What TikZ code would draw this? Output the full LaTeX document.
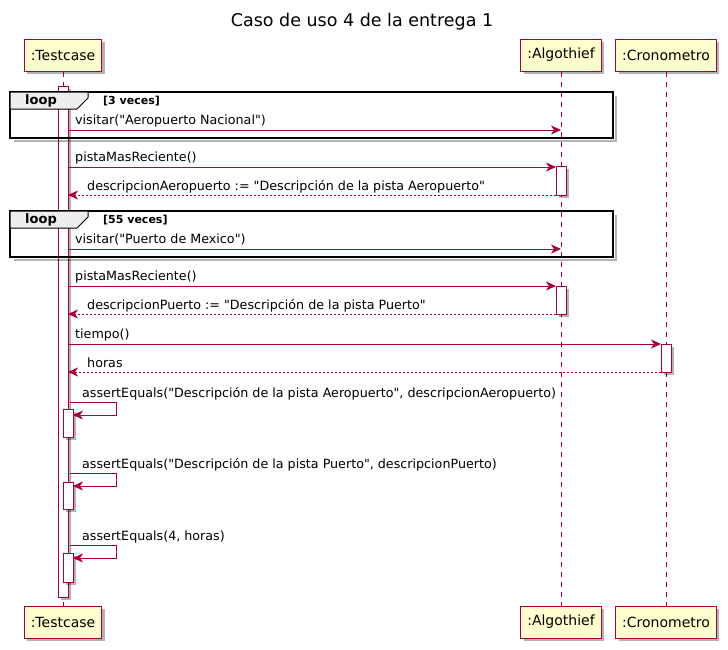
\documentclass[tikz,border=0pt]{standalone}
\usepackage{fontspec}
\setmainfont{DejaVu Sans}[Ligatures=TeXOff]
\usetikzlibrary{arrows.meta, positioning, shadows}
\definecolor{umlred}{HTML}{A80036}
\definecolor{umlfill}{HTML}{FEFECE}
\definecolor{loopgray}{HTML}{EEEEEE}
\tikzset{
    >={Stealth[length=10pt, width=9pt, inset=3pt]},
    umlshadow/.style={drop shadow={shadow xshift=3pt, shadow yshift=-3pt, fill=black, opacity=0.3}},
    actor/.style={draw=umlred, fill=umlfill, line width=1pt, minimum height=32pt,
        inner xsep=6.5pt, font=\fontsize{14}{16}\selectfont, umlshadow},
    lifeline/.style={umlred, dash pattern=on 5pt off 5pt, line width=0.8pt},
    actbar/.style={draw=umlred, fill=white, line width=1pt, umlshadow},
    msg/.style={umlred, ->, line width=0.9pt},
    ret/.style={umlred, ->, dash pattern=on 2pt off 2pt, line width=0.9pt},
    msglabel/.style={anchor=base west, inner sep=0pt, font=\fontsize{12.7}{14}\selectfont},
    loopframe/.style={draw=black, line width=1.8pt},
    loopshadow/.style={draw=black, opacity=0.3, line width=2pt},
    looptab/.style={draw=black, fill=loopgray, line width=1pt},
    looplabel/.style={inner sep=0pt, font=\bfseries\fontsize{13}{15}\selectfont},
    loopcond/.style={anchor=base west, inner sep=0pt, font=\bfseries\fontsize{11}{13}\selectfont}
}

\begin{document}
\begin{tikzpicture}[x=1pt, y=-1pt]
    \useasboundingbox (0, 0) rectangle (728, 649);
    % title
    \node[font=\fontsize{17.5}{20}\selectfont] (title) at (362, 22) {Caso de uso 4 de la entrega 1};
    % participants
    \node[actor] (testcaseTop) at (63, 55) {:Testcase};
    \node[actor] (algothiefTop) at (561, 55) {:Algothief};
    \node[actor] (cronoTop) at (666, 55) {:Cronometro};
    \node[actor] (testcaseBot) at (63, 622) {:Testcase};
    \node[actor] (algothiefBot) at (561, 622) {:Algothief};
    \node[actor] (cronoBot) at (666, 622) {:Cronometro};
    % lifelines
    \draw[lifeline] (testcaseTop) -- (testcaseBot);
    \draw[lifeline] (algothiefTop) -- (algothiefBot);
    \draw[lifeline] (cronoTop) -- (cronoBot);
    % activations
    \draw[actbar] (58, 86) rectangle (68, 597);
    \draw[actbar] (556, 166) rectangle (566, 195);
    \draw[actbar] (556, 286) rectangle (566, 314);
    \draw[actbar] (661, 344) rectangle (671, 372);
    \draw[actbar] (63, 409) rectangle (73, 437);
    \draw[actbar] (63, 482) rectangle (73, 509);
    \draw[actbar] (63, 553) rectangle (73, 582);
    % loop frames
    \foreach \top/\cond in {92/3 veces, 211/55 veces}{
        \draw[loopshadow] (616, \top+4) -- (616, \top+49) -- (14, \top+49);
        \draw[loopframe] (10, \top) rectangle (613, \top+46);
        \draw[looptab] (10, \top) -- (88, \top) -- (88, \top+6) -- (77, \top+17) -- (10, \top+17) -- cycle;
        \node[looplabel] at (41, \top+8.5) {loop};
        \node[loopcond] at (103, \top+12) {[\cond]};
    }
    % messages
    \coordinate (t1) at (68, 130);   \coordinate (a1) at (561, 130);
    \coordinate (t2) at (68, 167);   \coordinate (a2) at (556, 167);
    \coordinate (t3) at (68, 195);   \coordinate (a3) at (556, 195);
    \coordinate (t4) at (68, 249);   \coordinate (a4) at (561, 249);
    \coordinate (t5) at (68, 286);   \coordinate (a5) at (556, 286);
    \coordinate (t6) at (68, 314);   \coordinate (a6) at (556, 314);
    \coordinate (t7) at (68, 344);   \coordinate (c7) at (661, 344);
    \coordinate (t8) at (68, 372);   \coordinate (c8) at (661, 372);
    \draw[msg] (t1) -- (a1);
    \draw[msg] (t2) -- (a2);
    \draw[ret] (a3) -- (t3);
    \draw[msg] (t4) -- (a4);
    \draw[msg] (t5) -- (a5);
    \draw[ret] (a6) -- (t6);
    \draw[msg] (t7) -- (c7);
    \draw[ret] (c8) -- (t8);
    \node[msglabel] (l1) at (75, 124) {visitar("Aeropuerto Nacional")};
    \node[msglabel] (l2) at (75, 161) {pistaMasReciente()};
    \node[msglabel] (l3) at (87, 190) {descripcionAeropuerto := "Descripción de la pista Aeropuerto"};
    \node[msglabel] (l4) at (75, 243) {visitar("Puerto de Mexico")};
    \node[msglabel] (l5) at (75, 280) {pistaMasReciente()};
    \node[msglabel] (l6) at (87, 309) {descripcionPuerto := "Descripción de la pista Puerto"};
    \node[msglabel] (l7) at (75, 338) {tiempo()};
    \node[msglabel] (l8) at (87, 367) {horas};
    % self calls
    \foreach \y/\name/\txt in {402/s1/{assertEquals("Descripción de la pista Aeropuerto", descripcionAeropuerto)},
                               473/s2/{assertEquals("Descripción de la pista Puerto", descripcionPuerto)},
                               545/s3/{assertEquals(4, horas)}}{
        \coordinate (\name a) at (70, \y);
        \coordinate (\name b) at (116, \y);
        \coordinate (\name c) at (116, \y+13);
        \coordinate (\name d) at (73, \y+13);
        \draw[msg] (\name a) -- (\name b) -- (\name c) -- (\name d);
        \node[msglabel] (\name l) at (82, \y-5) {\txt};
    }
\end{tikzpicture}
\end{document}
